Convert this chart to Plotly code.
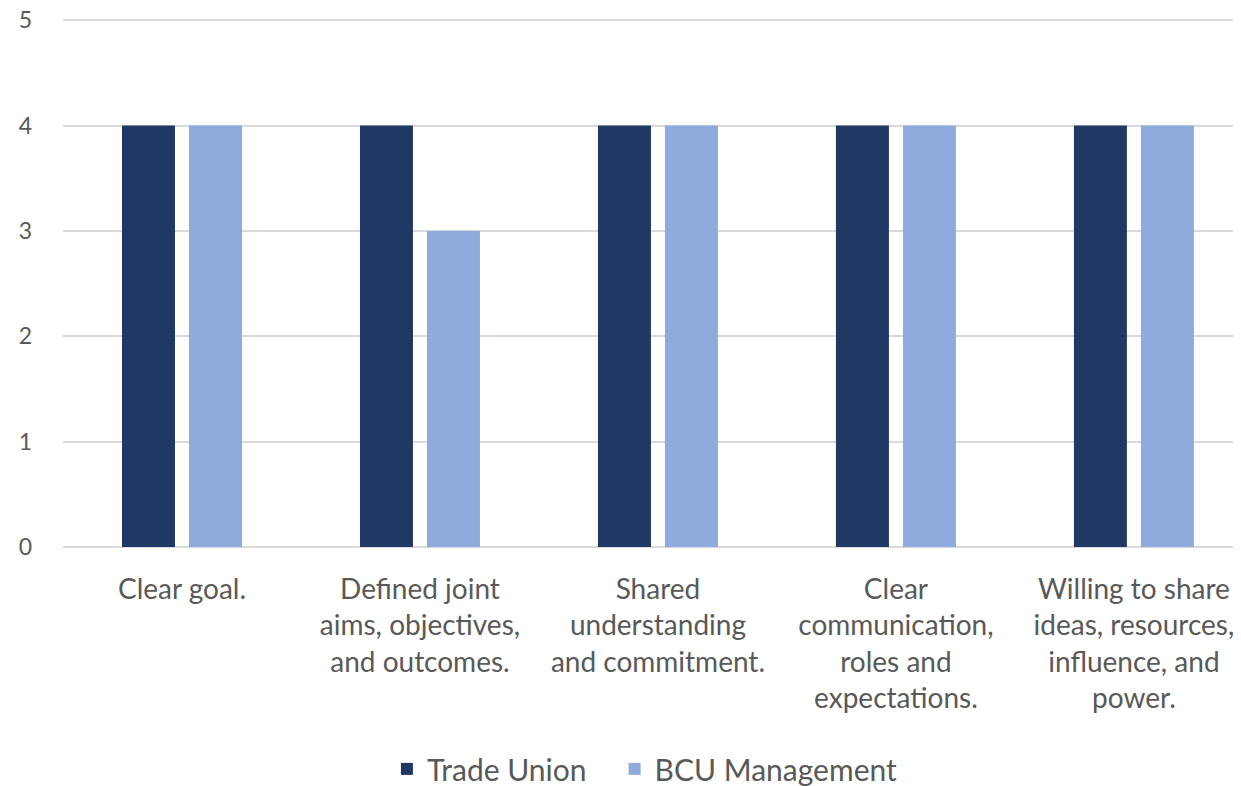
import plotly.graph_objects as go

categories = [
    "Clear goal.",
    "Defined joint<br>aims, objectives,<br>and outcomes.",
    "Shared<br>understanding<br>and commitment.",
    "Clear<br>communication,<br>roles and<br>expectations.",
    "Willing to share<br>ideas, resources,<br>influence, and<br>power.",
]
trade_union = [4, 4, 4, 4, 4]
bcu_management = [4, 3, 4, 4, 4]

fig = go.Figure()
# trailing no-break spaces widen the gap between legend entries
fig.add_trace(go.Bar(x=categories, y=trade_union, name="Trade Union\u00a0\u00a0\u00a0",
                     marker=dict(color="#203864", line=dict(width=0))))
fig.add_trace(go.Bar(x=categories, y=bcu_management, name="BCU Management",
                     marker=dict(color="#8faadc", line=dict(width=0))))

# page body has an 8px margin, so the figure is 8px smaller than the window
fig.update_layout(
    width=1233, height=778,
    margin=dict(l=55, r=0, t=9, b=239),
    paper_bgcolor="white", plot_bgcolor="white",
    font=dict(family="Lato, Open Sans, sans-serif", size=28, color="#595959"),
    barmode="group", bargap=0.437, bargroupgap=0.209,
    showlegend=True,
    legend=dict(orientation="h", x=0.494, xanchor="center",
                yref="container", y=0.022, yanchor="middle",
                font=dict(size=30, color="#595959"), itemwidth=30,
                traceorder="normal"),
)
# range trimmed on the right so category spacing matches the original
fig.update_xaxes(range=[-0.5, 4.45], showgrid=False, showline=False, ticks="", tickangle=0,
                 ticklabelstandoff=23, automargin=False)
fig.update_yaxes(range=[0, 5.03], tickvals=[0, 1, 2, 3, 4, 5], showgrid=True,
                 gridcolor="#d9d9d9", gridwidth=1.5,
                 zeroline=True, zerolinecolor="#d9d9d9", zerolinewidth=1.5,
                 showline=False, ticks="", ticklabelstandoff=30,
                 tickfont=dict(size=23), ticklabeloverflow="allow", automargin=False)

fig.write_html("out.html")
